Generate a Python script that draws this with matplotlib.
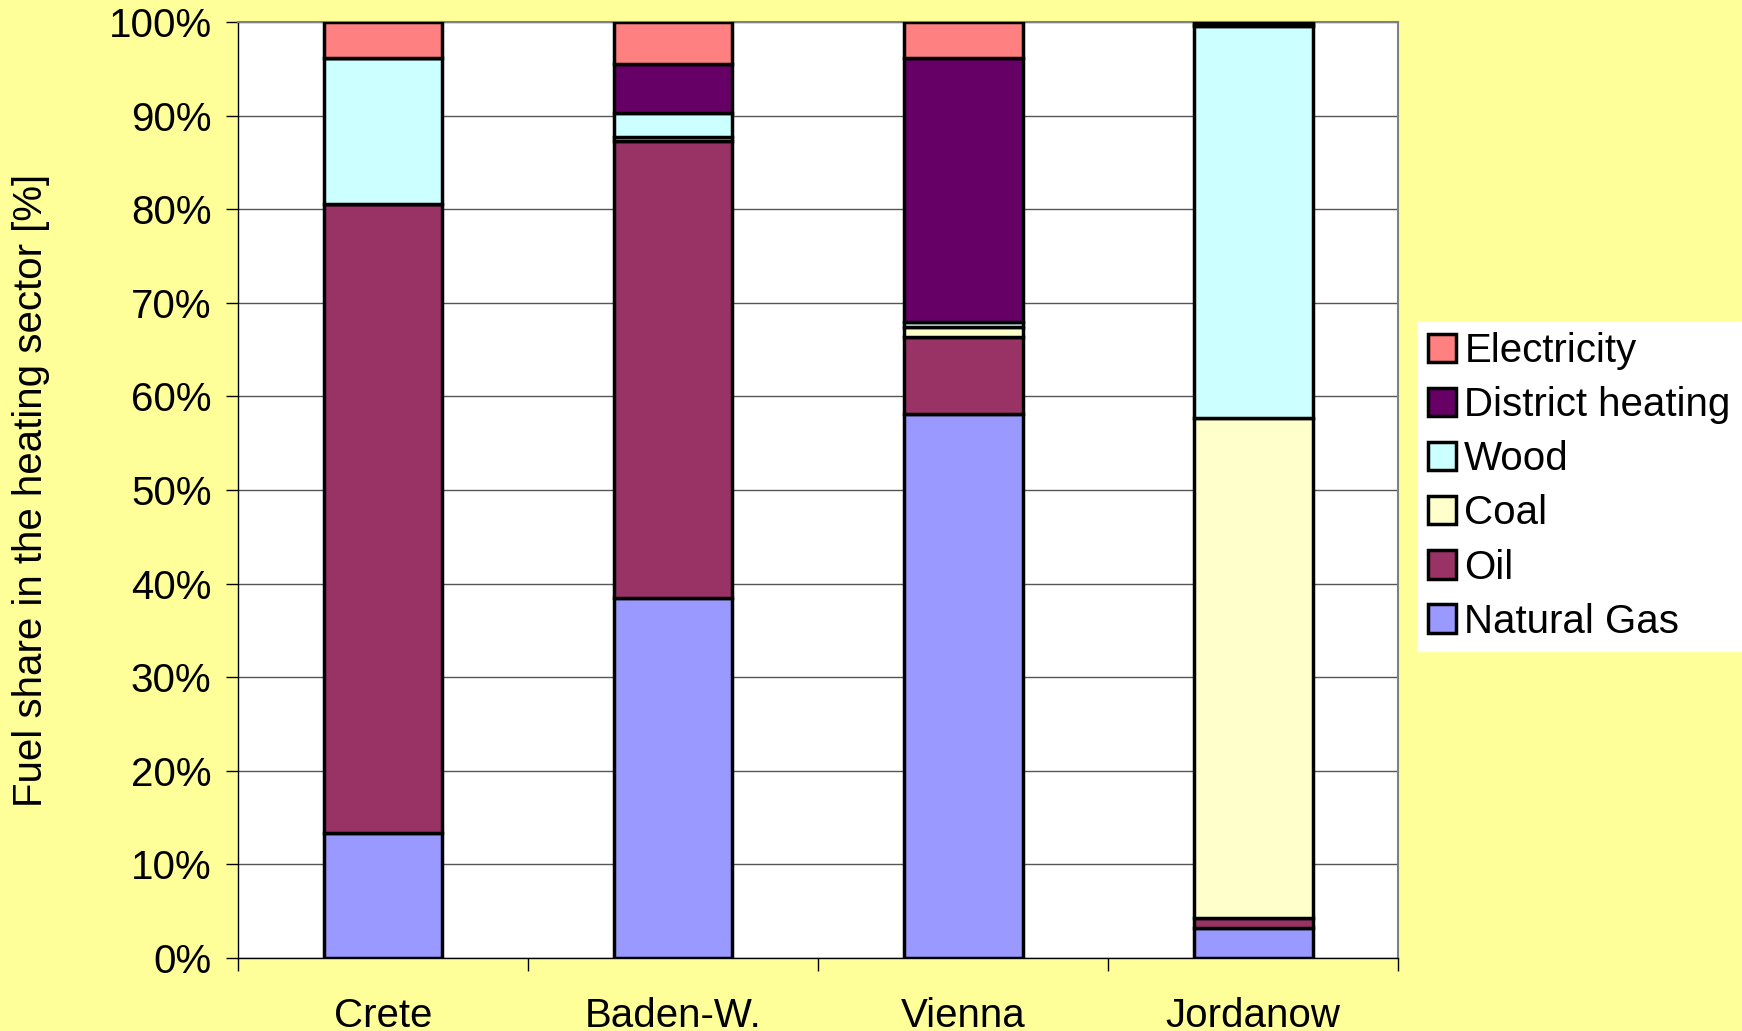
import numpy as np
import matplotlib.pyplot as plt
from matplotlib.ticker import FixedLocator, PercentFormatter

plt.rcParams['font.family'] = ['Liberation Sans', 'DejaVu Sans']

# regiões e participações de combustível (%)
regioes = ["Crete", "Baden-W.", "Vienna", "Jordanow"]
natural_gas = [13.4, 38.5, 58.1, 3.2]
oil = [67.2, 48.8, 8.2, 1.1]
coal = [0.0, 0.4, 1.1, 53.4]
wood = [15.5, 2.6, 0.5, 41.9]
district_heating = [0.0, 5.2, 28.3, 0.2]
electricity = [3.9, 4.5, 3.8, 0.2]

series = [
    ("Natural Gas", natural_gas, "#9999FF"),
    ("Oil", oil, "#993366"),
    ("Coal", coal, "#FFFFCC"),
    ("Wood", wood, "#CCFFFF"),
    ("District heating", district_heating, "#660066"),
    ("Electricity", electricity, "#FF8080"),
]

fs = 29

fig = plt.figure(figsize=(17.42, 10.31), dpi=100, facecolor="#FFFF99")
ax = fig.add_axes([0.1366, 0.0708, 0.666, 0.9079])
ax.set_facecolor("white")

x = np.arange(len(regioes))
base = np.zeros(len(regioes))
for nome, vals, cor in series:
    vals = np.array(vals)
    ax.bar(x, vals, bottom=base, width=0.41, color=cor, edgecolor="black",
           linewidth=2.5, label=nome, zorder=3)
    base += vals

ax.set_xlim(-0.5, len(regioes) - 0.5)
ax.set_ylim(0, 100)
ax.set_yticks(np.arange(0, 101, 10))
ax.yaxis.set_major_formatter(PercentFormatter(decimals=0))
ax.grid(axis="y", color="#555555", linewidth=1, zorder=0)

# ticks nas fronteiras, rótulos no centro
ax.xaxis.set_major_locator(FixedLocator(np.arange(-0.5, len(regioes), 1.0)))
ax.xaxis.set_minor_locator(FixedLocator(x))
ax.set_xticklabels([], minor=False)
ax.set_xticklabels(regioes, minor=True)
ax.tick_params(axis="x", which="major", length=9, width=1, direction="out")
ax.tick_params(axis="x", which="minor", length=0, pad=28, labelsize=fs)
ax.tick_params(axis="y", length=9, width=1, direction="out", labelsize=fs, pad=10)

for lado in ["top", "right"]:
    ax.spines[lado].set_color("#808080")
    ax.spines[lado].set_linewidth(1.5)
ax.spines["left"].set_linewidth(1)
ax.spines["bottom"].set_linewidth(1)

ax.set_ylabel("Fuel share in the heating sector [%]", fontsize=fs, labelpad=42)

handles, labels = ax.get_legend_handles_labels()
leg = fig.legend(handles[::-1], labels[::-1], loc="upper left",
                 bbox_to_anchor=(1418 / 1742, 1 - 322 / 1031),
                 fontsize=fs, frameon=True, fancybox=False, borderaxespad=0,
                 handlelength=0.7, handleheight=0.7, handletextpad=0.2,
                 labelspacing=0.4, borderpad=0.25)
leg.get_frame().set_facecolor("white")
leg.get_frame().set_edgecolor("white")
leg.get_frame().set_alpha(1)

fig.savefig("out.png", dpi=100, facecolor=fig.get_facecolor())
